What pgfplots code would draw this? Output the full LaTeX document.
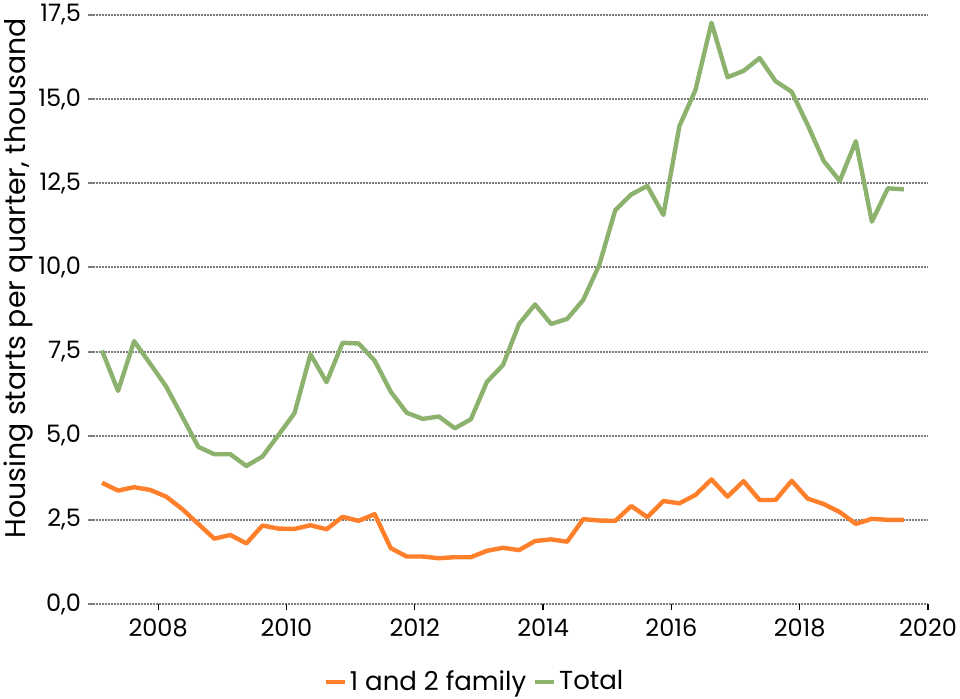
\documentclass[border=0pt]{standalone}
\usepackage{pgfplots}
\pgfplotsset{compat=1.18}
\usepackage{pgfplotstable}
\usepackage{fontspec}
\setmainfont{Poppins}
\definecolor{cfam}{RGB}{255,127,42}
\definecolor{ctot}{RGB}{140,178,110}
\definecolor{cgrid}{RGB}{125,125,125}
\pgfplotstableread{
x fam tot
2007.125 3.60 7.53
2007.375 3.37 6.33
2007.625 3.47 7.81
2007.875 3.39 7.14
2008.125 3.19 6.46
2008.375 2.82 5.57
2008.625 2.38 4.67
2008.875 1.94 4.45
2009.125 2.05 4.45
2009.375 1.80 4.10
2009.625 2.33 4.38
2009.875 2.24 5.02
2010.125 2.23 5.67
2010.375 2.34 7.42
2010.625 2.22 6.59
2010.875 2.59 7.76
2011.125 2.47 7.74
2011.375 2.67 7.23
2011.625 1.66 6.31
2011.875 1.41 5.68
2012.125 1.41 5.50
2012.375 1.36 5.57
2012.625 1.39 5.22
2012.875 1.39 5.49
2013.125 1.58 6.60
2013.375 1.67 7.10
2013.625 1.60 8.32
2013.875 1.87 8.90
2014.125 1.92 8.32
2014.375 1.85 8.47
2014.625 2.52 9.03
2014.875 2.48 10.07
2015.125 2.47 11.70
2015.375 2.91 12.17
2015.625 2.58 12.42
2015.875 3.06 11.56
2016.125 2.99 14.20
2016.375 3.24 15.27
2016.625 3.70 17.27
2016.875 3.19 15.65
2017.125 3.65 15.84
2017.375 3.09 16.22
2017.625 3.09 15.53
2017.875 3.66 15.22
2018.125 3.13 14.23
2018.375 2.97 13.16
2018.625 2.73 12.57
2018.875 2.38 13.75
2019.125 2.53 11.36
2019.375 2.50 12.35
2019.625 2.50 12.32
}\data
\begin{document}
\begin{tikzpicture}
\begin{axis}[
  scale only axis,
  width=417pt, height=294.5pt,
  xmin=2007, xmax=2020, ymin=0, ymax=17.5,
  clip=false,
  axis line style={draw=none},
  xtick={2008,2010,...,2020},
  ytick={0,2.5,...,17.5},
  xtick pos=bottom, ytick pos=left,
  tick align=outside,
  major tick length=3pt,
  xtick style={black, line width=0.6pt},
  ytick style={cgrid, line width=1pt},
  ymajorgrids,
  grid style={cgrid, line width=1pt, dash pattern=on 0.5pt off 0.25pt},
  /pgf/number format/assume math mode=true,
  yticklabel style={/pgf/number format/.cd, fixed, fixed zerofill, precision=1, use comma},
  xticklabel style={/pgf/number format/1000 sep=, yshift=-1pt},
  tick label style={font=\fontsize{12}{14}\selectfont, black},
  ylabel={Housing starts per quarter, thousand},
  ylabel style={at={(axis description cs:-0.0905,0.553)}, anchor=center, font=\fontsize{14.2}{16}\selectfont},
  legend columns=2,
  legend style={at={(axis description cs:0.457,-0.132)}, anchor=center, draw=none,
    font=\fontsize{13}{15}\selectfont, inner sep=0pt,
    nodes={inner sep=1.5pt},
    /tikz/every even column/.append style={column sep=2pt}},
  legend image code/.code={\draw[#1, line width=2pt] (0pt,0pt) -- (9.5pt,0pt);},
  every axis plot/.append style={line width=2.2pt, line join=round},
]
\addplot[cfam, no markers] table[x=x, y=fam] {\data};
\addlegendentry{1 and 2 family}
\addplot[ctot, no markers] table[x=x, y=tot] {\data};
\addlegendentry{Total}
\coordinate (bbsw) at (axis description cs:-0.11271,-0.16129);
\coordinate (bbne) at (axis description cs:1.03837,1.02547);
\end{axis}
\pgfresetboundingbox
\path[use as bounding box] (bbsw) rectangle (bbne);
\end{tikzpicture}
\end{document}
